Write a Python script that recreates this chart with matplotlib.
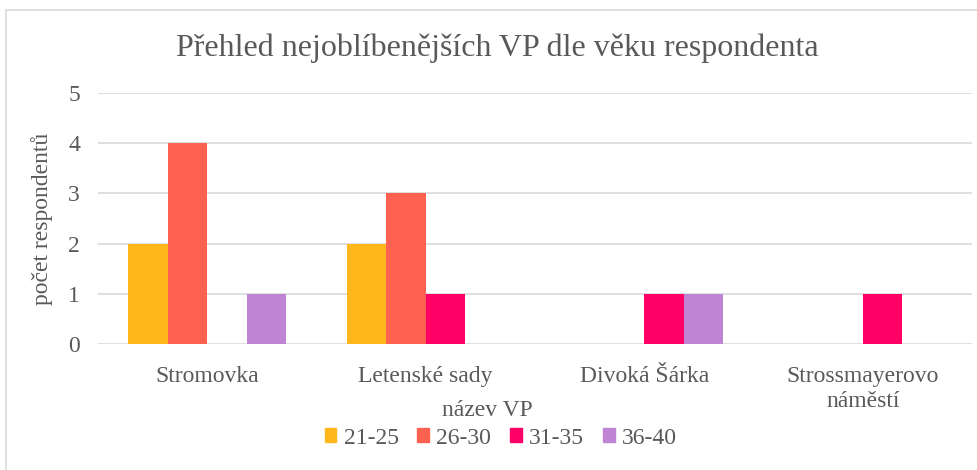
import matplotlib.pyplot as plt
import numpy as np
from matplotlib.patches import Rectangle

categories = ['Stromovka', 'Letenské sady', 'Divoká Šárka', 'Strossmayerovo\nnáměstí']
series = ['21-25', '26-30', '31-35', '36-40']
values = [
    [2, 2, 0, 0],
    [4, 3, 0, 0],
    [0, 1, 1, 1],
    [1, 0, 1, 0],
]
colors = ['#FFB71B', '#FF6150', '#FF0066', '#C084D4']

plt.rcParams['font.family'] = ['Liberation Serif', 'DejaVu Serif']
text_color = '#595959'

fig = plt.figure(figsize=(9.78, 4.70), dpi=100)
ax = fig.add_axes([98 / 978, 1 - 344 / 470, (972 - 98) / 978, (344 - 93) / 470])

x = np.arange(len(categories))
w = 0.181
for i, (name, vals) in enumerate(zip(series, values)):
    ax.bar(x + (i - 1.5) * w, vals, w, color=colors[i], label=name, zorder=3)

ax.set_xlim(-0.5, len(categories) - 0.5)
ax.set_ylim(0, 5)
ax.set_yticks(range(6))
ax.grid(axis='y', color='#D9D9D9', linewidth=1.2, zorder=0)
for s in ax.spines.values():
    s.set_visible(False)
ax.tick_params(length=0, labelsize=17, colors=text_color)
ax.tick_params(axis='y', pad=13)
ax.tick_params(axis='x', pad=16)
ax.set_xticks(x)
ax.set_xticklabels(categories, linespacing=1.25)
ax.set_ylabel('počet respondentů', fontsize=17, color=text_color, labelpad=11)

fig.text(0.509, 1 - 48 / 470, 'Přehled nejoblíbenějších VP dle věku respondenta',
         ha='center', va='center', fontsize=23, color=text_color)
fig.text(0.498, 1 - 410 / 470, 'název VP', ha='center', va='center',
         fontsize=17, color=text_color)

handles = [Rectangle((0, 0), 1, 1, color=c) for c in colors]
fig.legend(handles, series, loc='center', bbox_to_anchor=(0.512, 1 - 438 / 470),
           ncol=4, frameon=False, fontsize=17, labelcolor=text_color,
           handlelength=0.5, handleheight=0.5, handletextpad=0.3, columnspacing=0.8)

fig.add_artist(Rectangle((6 / 978, -0.01), 1.0, 1 - 10 / 470 + 0.01,
                         transform=fig.transFigure, fill=False,
                         edgecolor='#D9D9D9', linewidth=1.2))

fig.savefig('out.png', dpi=100)
